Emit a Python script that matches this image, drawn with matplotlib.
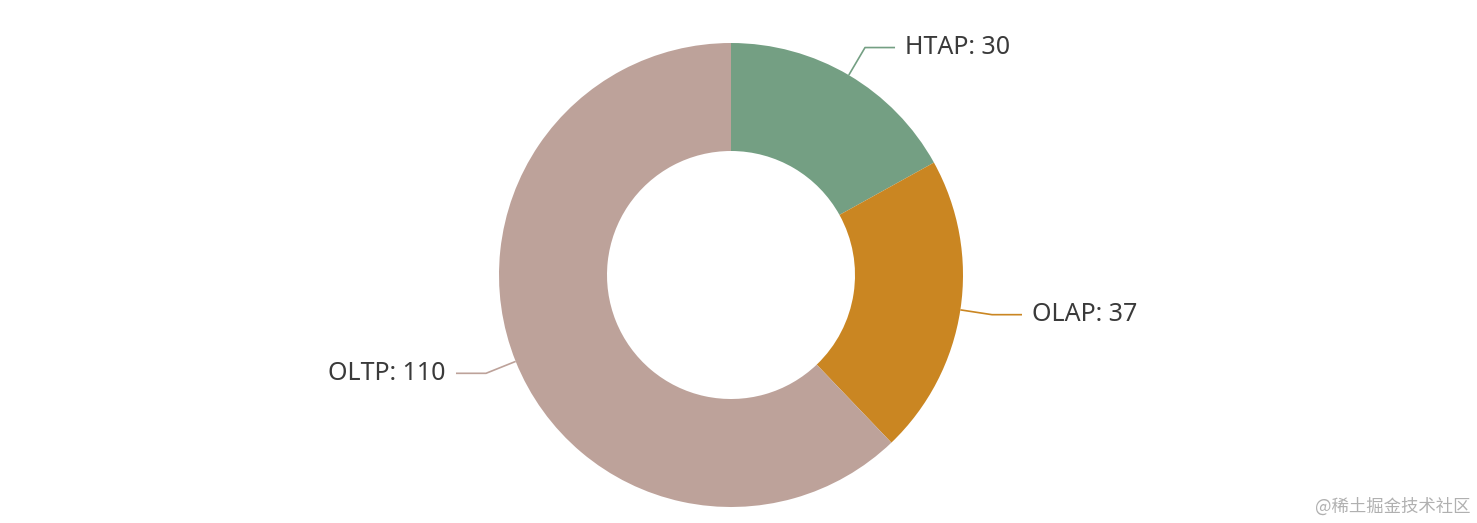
import numpy as np
import matplotlib
matplotlib.use("Agg")
import matplotlib.pyplot as plt

categories = ["HTAP", "OLAP", "OLTP"]
values = [30, 37, 110]
colors = ["#749f83", "#ca8622", "#bda29a"]

W, H = 1477, 523
fig = plt.figure(figsize=(W / 100, H / 100), dpi=100)
ax = fig.add_axes([0, 0, 1, 1])
ax.set_xlim(0, W)
ax.set_ylim(0, H)
ax.set_aspect("equal")
ax.axis("off")

cx, cy, r_out, r_in = 731, 248, 232, 124
wedges, _ = ax.pie(values, colors=colors, startangle=90, counterclock=False,
                   center=(cx, cy), radius=r_out,
                   wedgeprops=dict(width=r_out - r_in, edgecolor="none", linewidth=0))
ax.set_xlim(0, W)
ax.set_ylim(0, H)

font = ["Noto Sans", "DejaVu Sans"]
for w, name, v, c in zip(wedges, categories, values, colors):
    mid = np.deg2rad((w.theta1 + w.theta2) / 2)
    p1 = (cx + r_out * np.cos(mid), cy + r_out * np.sin(mid))
    p2 = (cx + (r_out + 32) * np.cos(mid), cy + (r_out + 32) * np.sin(mid))
    side = 1 if np.cos(mid) >= 0 else -1
    p3 = (p2[0] + side * 30, p2[1])
    ax.plot([p1[0], p2[0], p3[0]], [p1[1], p2[1], p3[1]], color=c, lw=1.2,
            solid_capstyle="butt")
    ax.text(p3[0] + side * 10, p3[1], f"{name}: {v}", fontsize=18,
            color="#3a3a3a", family=font, va="center",
            ha="left" if side > 0 else "right")

ax.text(1470, 16, "@稀土掘金技术社区", fontsize=12.5, color="#b0b0b0",
        family=["Noto Sans CJK SC", "DejaVu Sans"], ha="right", va="center")

fig.savefig("out.png", dpi=100)
